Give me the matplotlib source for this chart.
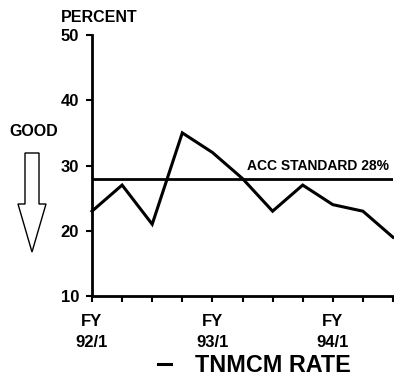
import matplotlib
matplotlib.use("Agg")
import matplotlib.pyplot as plt
from matplotlib.patches import Polygon

plt.rcParams['font.family'] = ['Liberation Sans', 'DejaVu Sans']
plt.rcParams['font.weight'] = 'bold'

# Quarterly TNMCM rate, FY92/1 through FY94/3
quarters = list(range(11))
tnmcm_rate = [23, 27, 21, 35, 32, 28, 23, 27, 24, 23, 19]
acc_standard = 28
tick_positions = [0, 4, 8]
tick_labels = ["FY\n92/1", "FY\n93/1", "FY\n94/1"]
y_ticks = [10, 20, 30, 40, 50]

W, H = 394, 377
fig = plt.figure(figsize=(W / 100, H / 100), dpi=100)
ax = fig.add_axes([92 / W, (H - 296) / H, (393 - 92) / W, (296 - 35) / H])

line, = ax.plot(quarters, tnmcm_rate, color='black', lw=2.2,
                solid_joinstyle='miter', label='TNMCM RATE', clip_on=False)
ax.axhline(acc_standard, color='black', lw=2.0)
ax.text(5.15, acc_standard + 0.9, f"ACC STANDARD {acc_standard}%",
        fontsize=10, fontweight='bold', ha='left', va='bottom')

ax.set_xlim(0, 10)
ax.set_ylim(10, 50)
ax.set_yticks(y_ticks)
ax.set_yticklabels([str(v) for v in y_ticks])
ax.set_xticks(quarters, minor=True)
ax.set_xticks(tick_positions)
ax.set_xticklabels(tick_labels)
for lbl in ax.get_xticklabels():
    lbl.set_linespacing(1.55)

ax.tick_params(axis='both', which='both', direction='out', width=1.5,
               length=4.3, labelsize=12)
ax.tick_params(axis='y', pad=5)
ax.tick_params(axis='x', pad=8.5)
for lbl in ax.get_yticklabels() + ax.get_xticklabels():
    lbl.set_fontweight('bold')

for side in ('top', 'right'):
    ax.spines[side].set_visible(False)
for side in ('left', 'bottom'):
    ax.spines[side].set_linewidth(2.0)

fig.text(99.5 / W, 1 - 17.5 / H, "PERCENT", fontsize=11.5, fontweight='bold',
         ha='center', va='center')
fig.text(33.5 / W, 1 - 132 / H, "GOOD", fontsize=11.5, fontweight='bold',
         ha='center', va='center')

# Hollow downward arrow beside the axis
arrow_px = [(25, 153), (39, 153), (39, 204), (46, 204), (32, 252),
            (18, 204), (25, 204)]
arrow = Polygon([(x / W, 1 - y / H) for x, y in arrow_px], closed=True,
                facecolor='white', edgecolor='black', lw=1.0,
                transform=fig.transFigure)
fig.add_artist(arrow)

fig.legend(handles=[line], loc='center left',
           bbox_to_anchor=(158 / W, 1 - 366 / H), frameon=False,
           handlelength=0.55, handletextpad=1.05,
           borderpad=0, borderaxespad=0, prop={'weight': 'bold', 'size': 16.8})

fig.savefig("out.png", dpi=100)
